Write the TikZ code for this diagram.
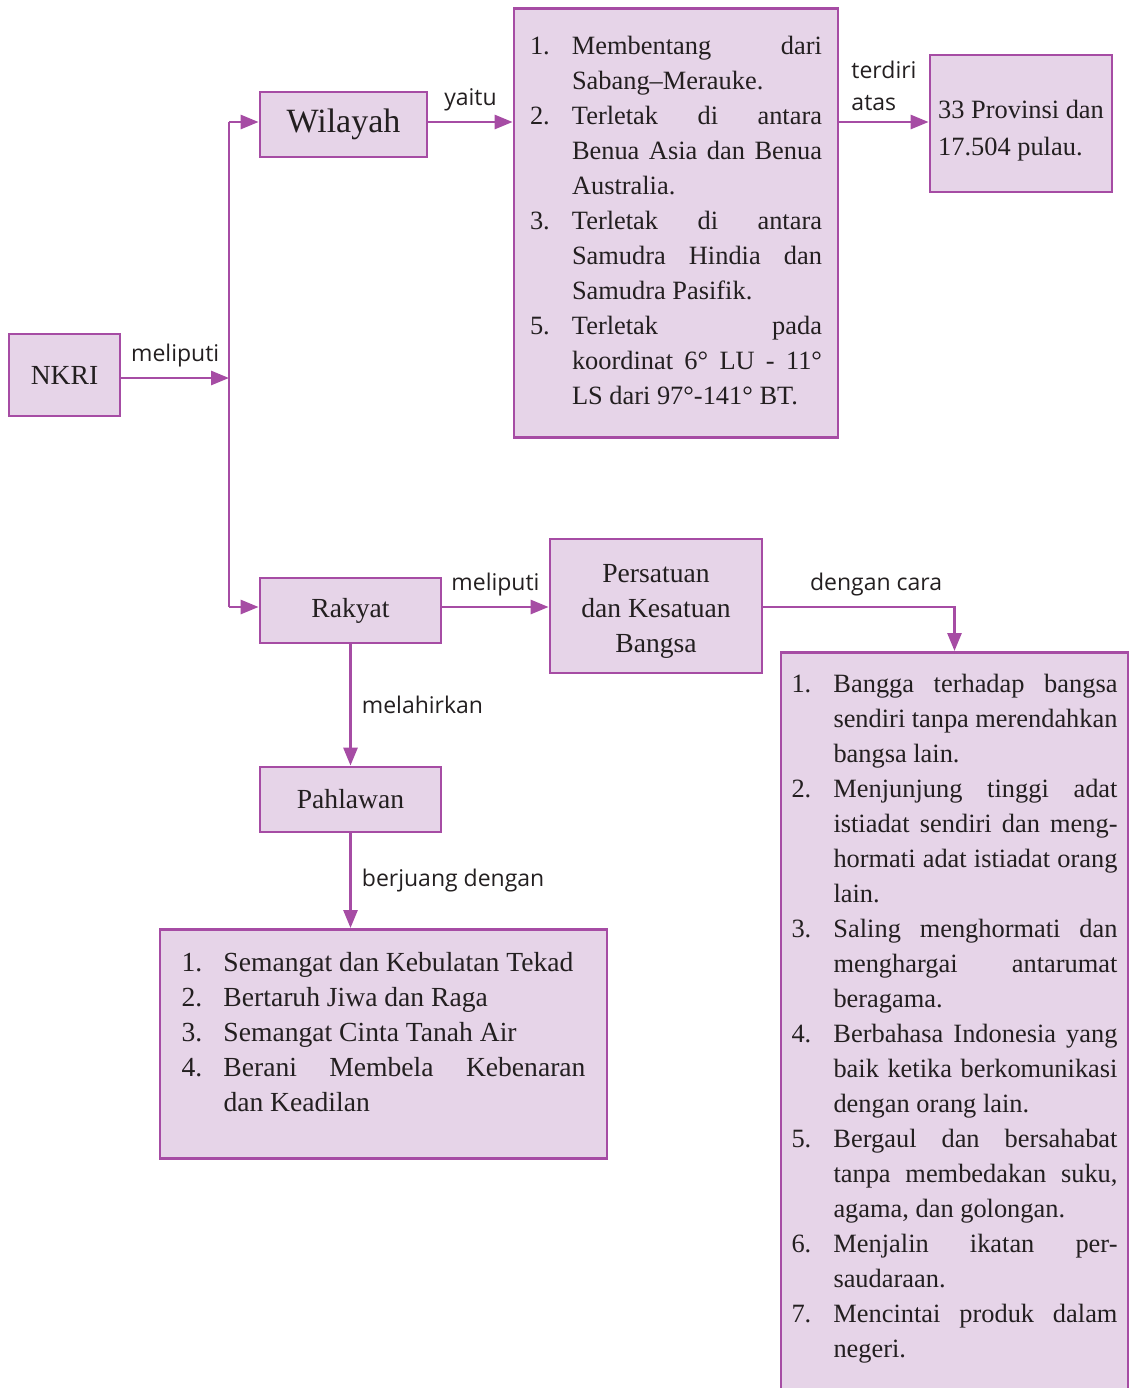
\documentclass[tikz,border=0pt]{standalone}
\usepackage{fontspec}
\setmainfont{Liberation Serif}
\newfontfamily\labelfont{Open Sans}
\usepackage{xcolor}
\usetikzlibrary{arrows.meta}
\definecolor{ungu}{RGB}{166,76,164}
\definecolor{ungumuda}{RGB}{230,212,232}
\definecolor{teks}{RGB}{35,31,32}
\hyphenpenalty=10000
\tolerance=9999
\newcommand{\butir}[2]{\par\noindent\hangindent=21pt\hangafter=1\makebox[21pt][l]{#1}#2\par}
\tikzset{
  kotak/.style={draw=ungu, fill=ungumuda, line width=1.4pt, text=teks, inner sep=0pt,
    font=\fontsize{13.8}{17.5}\selectfont},
  daftar/.style={kotak, align=justify, font=\fontsize{13.2}{17.5}\selectfont},
  garis/.style={draw=ungu, line width=1.4pt},
  panah/.style={garis, -{Triangle[length=9pt,width=7pt]}},
  ket/.style={font=\labelfont\fontsize{11.5}{16}\selectfont, text=teks, inner sep=5pt},
}

\begin{document}
\begin{tikzpicture}[x=0.5pt, y=-0.5pt]
	\useasboundingbox (0,0) rectangle (1130,1388);

	% kotak
	\node[kotak, minimum width=55.5pt, minimum height=41pt] (nkri) at (64.5,375) {NKRI};
	\node[kotak, minimum width=83.5pt, minimum height=32.5pt, font=\fontsize{17}{20}\selectfont] (wilayah) at (343.5,124.5) {Wilayah};
	\node[daftar, text width=146pt, inner xsep=8pt, minimum height=214.5pt, anchor=north] (letak) at (676,7) {%
		\butir{1.}{Membentang dari\linebreak Sabang--Merauke.}
		\butir{2.}{Terletak di antara\linebreak Benua Asia dan Benua\linebreak Australia.}
		\butir{3.}{Terletak di antara\linebreak Samudra Hindia dan\linebreak Samudra Pasifik.}
		\butir{5.}{Terletak pada\linebreak koordinat 6° LU - 11°\linebreak LS dari 97°-141° BT.}\vspace{11pt}};
	\node[kotak, minimum width=91pt, minimum height=68.5pt, align=left, font=\fontsize{13.2}{18.5}\selectfont] (pulau) at (1021,123.5) {\rule{0pt}{16pt}33 Provinsi dan\\17.504 pulau.};

	\node[kotak, minimum width=90.5pt, minimum height=32.5pt] (rakyat) at (350.5,610.5) {Rakyat};
	\node[kotak, minimum width=106pt, minimum height=67pt, align=center] (persatuan) at (656,606) {\rule{0pt}{14pt}Persatuan\\dan Kesatuan\\Bangsa};
	\node[kotak, minimum width=90.5pt, minimum height=32.5pt] (pahlawan) at (350.5,799.5) {Pahlawan};
	\node[daftar, text width=202pt, inner xsep=10.75pt, minimum height=114.5pt, anchor=north, font=\fontsize{13.8}{17.5}\selectfont] (juang) at (383.5,928) {%
		\butir{1.}{Semangat dan Kebulatan Tekad}
		\butir{2.}{Bertaruh Jiwa dan Raga}
		\butir{3.}{Semangat Cinta Tanah Air}
		\butir{4.}{Berani Membela Kebenaran\linebreak dan Keadilan}\vspace{20pt}};
	\node[daftar, text width=163pt, inner xsep=5.25pt, inner ysep=2.5pt, anchor=north] (cara) at (954.5,651) {%
		\butir{1.}{Bangga terhadap bangsa\linebreak sendiri tanpa merendahkan\linebreak bangsa lain.}
		\butir{2.}{Menjunjung tinggi adat\linebreak istiadat sendiri dan meng-\linebreak hormati adat istiadat orang\linebreak lain.}
		\butir{3.}{Saling menghormati dan\linebreak menghargai antarumat\linebreak beragama.}
		\butir{4.}{Berbahasa Indonesia yang\linebreak baik ketika berkomunikasi\linebreak dengan orang lain.}
		\butir{5.}{Bergaul dan bersahabat\linebreak tanpa membedakan suku,\linebreak agama, dan golongan.}
		\butir{6.}{Menjalin ikatan per-\linebreak saudaraan.}
		\butir{7.}{Mencintai produk dalam\linebreak negeri.}\vspace{20pt}};

	% cabang
	\coordinate (cabang) at (229,378);
	\coordinate (atas) at (229,122);
	\coordinate (bawah) at (229,607);
	\draw[garis] (atas) -- (bawah);

	% panah
	\draw[panah] (nkri.east |- cabang) -- node[ket, above] {meliputi} (cabang);
	\draw[panah] (atas) -- (atas -| wilayah.west);
	\draw[panah] (bawah) -- (bawah -| rakyat.west);
	\draw[panah] (wilayah.east |- atas) -- node[ket, above] {yaitu} (atas -| letak.west);
	\draw[panah] (letak.east |- atas) -- node[ket, above, align=left] {terdiri\\atas} (atas -| pulau.west);
	\draw[panah] (rakyat.east |- bawah) -- node[ket, above] {meliputi} (bawah -| persatuan.west);
	\draw[panah] (persatuan.east |- bawah) -| node[ket, above, pos=0.295] {dengan cara} (cara.north);
	\draw[panah] (rakyat.south) -- node[ket, right] {melahirkan} (pahlawan.north);
	\draw[panah] (pahlawan.south) -- node[ket, right] {berjuang dengan} (pahlawan.south |- juang.north);
\end{tikzpicture}
\end{document}
